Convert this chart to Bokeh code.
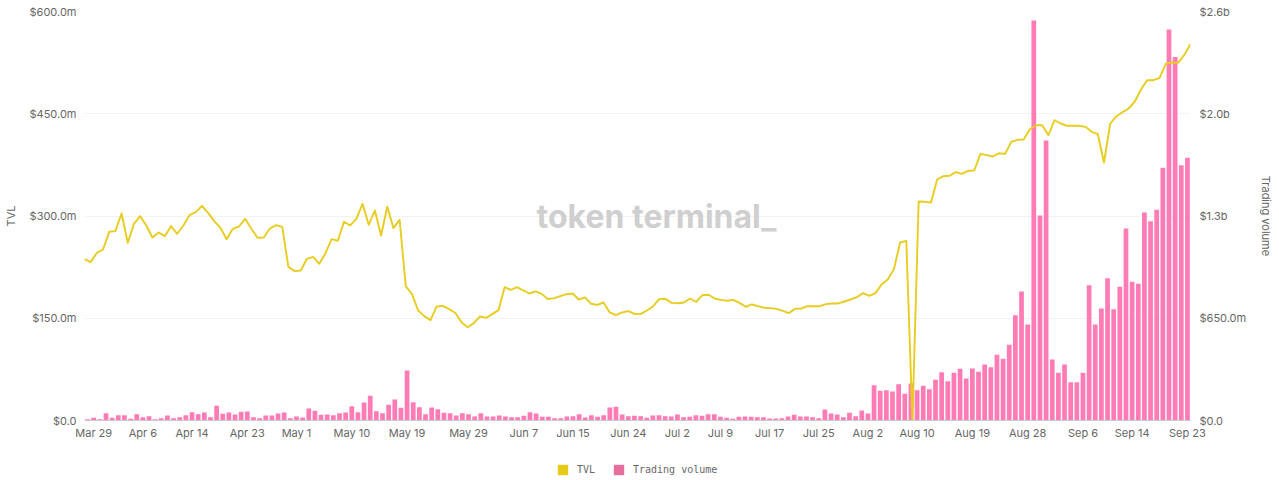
from bokeh.embed import file_html
from bokeh.resources import INLINE
from bokeh.plotting import figure
from bokeh.layouts import column
from bokeh.models import (ColumnDataSource, Range1d, LinearAxis, FixedTicker,
                          Label, Legend, LegendItem)
import pandas as pd

# Values in $ millions, one per day from Mar 28 to Sep 23
tvl = [236.7,232.3,246,250.9,276.8,277.8,303.7,260.7,288.5,299.8,286.1,268.5,275.8,270.4,285.1,273.9,286.1,301.2,305.6,314.9,
       304.7,292.4,282.7,266,281.2,284.6,295.9,281.2,268,268.5,281.7,286.6,284.1,225.4,219.1,220.1,237.2,240.1,229.9,245.5,
       266,263.6,291.5,286.1,295.9,317.9,287.1,308.1,271.4,313.5,282.2,294.4,196.6,185.8,161.4,153.1,147.2,167.3,168.2,163.3,
       158,144.3,136.9,142.8,152.6,150.6,156,161.9,195.6,191.7,195.6,190.7,186.3,189.3,185.8,178,179.5,182.4,185.3,186.3,
       177.5,180.5,171.2,169.7,173.1,158.5,154.5,158.5,160.4,156.5,156,161.4,167.3,178,178.5,172.6,172.1,173.1,179,174.1,
       183.9,184.4,179,177,175.6,177,172.6,166.8,170.2,167.7,165.3,164.8,163.8,160.9,157.5,163.8,164.3,167.7,167.7,167.7,
       170.7,171.7,171.7,174.6,177.5,180.9,186.8,182.9,186.8,199.5,206.8,222,261.1,263.6,0,321.3,320.8,319.8,353.5,358.4,
       359,364.3,361.9,366.3,366.8,391.2,389.2,387.3,392.1,391.2,408.8,411.8,412.2,427.3,433.2,433.2,418.5,440.5,435.7,432.3,
       432.3,432.3,430.9,423.5,420,378.5,435.3,446.4,452.3,457.7,468,486,499.2,499.2,502.7,523.3,525.2,524.7,536.5,552]
volume = [8.5,17,8.5,46.6,17,33.9,33.9,10.6,40.3,21.2,27.5,8.5,14.8,31.8,14.8,21.2,33.9,53,40.3,50.9,
          21.2,93.2,42.4,50.9,38.1,55.1,57.2,21.2,14.8,31.8,31.8,44.5,50.9,14.8,25.4,19.1,76.3,61.5,36,38.1,
          33.9,46.6,50.9,91.1,53,114.4,156.8,59.3,46.6,99.6,133.5,80.5,317.9,116.5,84.8,40.3,82.6,72,48.7,46.6,
          31.8,46.6,40.3,25.4,46.6,25.4,25.4,31.8,25.4,21.2,21.2,29.7,53,44.5,23.3,23.3,14.8,14.8,25.4,27.5,
          40.3,19.1,33.9,23.3,33.9,82.6,86.9,38.1,27.5,29.7,27.5,17,31.8,33.9,27.5,25.4,38.1,21.2,23.3,33.9,
          29.7,40.3,40.3,23.3,17,10.6,23.3,25.4,23.3,21.2,21.2,12.7,12.7,14.8,25.4,36,25.4,25.4,21.2,14.8,
          69.9,44.5,38.1,21.2,48.7,27.5,63.6,44.5,224.6,188.6,192.8,184.4,231,169.5,235.2,192.8,220.4,199.2,258.5,307.3,
          250,303,328.4,267,330.6,309.4,356,339,417.4,392,481,669.6,820,610.3,2543,1303,1780,387.8,303,356,
          243.7,243.7,303,860.3,610.3,712,904.8,707.7,849.7,1220.5,881.5,868.8,1322,1267,1339,1606,2486,2310,1623,1670]
x_tick_labels = ["Mar 29","Apr 6","Apr 14","Apr 23","May 1","May 10","May 19","May 29","Jun 7","Jun 15","Jun 24",
                 "Jul 2","Jul 9","Jul 17","Jul 25","Aug 2","Aug 10","Aug 19","Aug 28","Sep 6","Sep 14","Sep 23"]
tvl_ticks = [0, 150, 300, 450, 600]
tvl_tick_labels = ["$0.0", "$150.0m", "$300.0m", "$450.0m", "$600.0m"]
volume_ticks = [0, 650, 1300, 1950, 2600]
volume_tick_labels = ["$0.0", "$650.0m", "$1.3b", "$2.0b", "$2.6b"]

day_names = [f"{d.strftime('%b')} {d.day}" for d in pd.date_range("2023-03-28", periods=len(tvl))]
days = list(range(len(tvl)))
source = ColumnDataSource(dict(day=days, tvl=tvl, volume=volume))

TEXT = "#666666"
FONT = "Inter"
p = figure(width=1279, height=448, output_backend="svg", toolbar_location=None,
           x_range=Range1d(-0.5, len(tvl) - 0.5), y_range=Range1d(0, 600),
           min_border_left=84, min_border_right=89, min_border_top=11, min_border_bottom=28,
           outline_line_color=None, background_fill_color="white")
p.extra_y_ranges = {"volume": Range1d(0, 2600)}
p.extra_x_ranges = {"line": Range1d(0, len(tvl) - 1)}

p.xaxis.ticker = FixedTicker(ticks=[day_names.index(n) for n in x_tick_labels])
p.xaxis.major_label_overrides = {day_names.index(n): n for n in x_tick_labels}
p.xaxis.axis_line_color = "#cccccc"
p.yaxis.ticker = FixedTicker(ticks=tvl_ticks)
p.yaxis.major_label_overrides = dict(zip(tvl_ticks, tvl_tick_labels))
p.yaxis.axis_label = "TVL"
p.yaxis.axis_label_standoff = 9

right = LinearAxis(y_range_name="volume", ticker=FixedTicker(ticks=volume_ticks),
                   major_label_overrides=dict(zip(volume_ticks, volume_tick_labels)),
                   axis_label="Trading volume", axis_label_standoff=10)
p.add_layout(right, "right")

for ax in [p.xaxis[0], p.yaxis[0], right]:
    ax.major_tick_line_color = None
    ax.minor_tick_line_color = None
    ax.major_tick_in = 0
    ax.major_tick_out = 0
    ax.major_label_text_color = TEXT
    ax.major_label_text_font = FONT
    ax.major_label_text_font_size = "11px"
    ax.axis_label_text_color = TEXT
    ax.axis_label_text_font = FONT
    ax.axis_label_text_font_size = "11px"
    ax.axis_label_text_font_style = "normal"
p.yaxis[0].axis_line_color = None
right.axis_line_color = None
p.xaxis[0].major_label_standoff = 5
p.yaxis[0].major_label_standoff = 8
right.major_label_standoff = 9

p.xgrid.visible = False
p.ygrid.grid_line_color = "#f3f3f3"
p.ygrid.ticker = FixedTicker(ticks=tvl_ticks)

p.add_layout(Label(x=73.07, y=299, text="token terminal_", text_color="#cfcfcf", text_font="Inter",
                   text_font_style="bold", text_font_size="32px", text_align="left",
                   text_baseline="middle", level="underlay"))

p.vbar(x="day", top="volume", width=0.77, source=source, y_range_name="volume",
       fill_color="#ff7bb5", line_color=None)
p.line(x="day", y="tvl", source=source, x_range_name="line", line_color="#e8cc1f", line_width=1.9,
       line_join="round")

key = figure(width=1279, height=32, output_backend="svg", toolbar_location=None,
             x_axis_type=None, y_axis_type=None, x_range=Range1d(0, 1), y_range=Range1d(0, 1),
             min_border=0, outline_line_color=None)
key.grid.visible = False
key_tvl = key.vbar(x=[0], top=[0], width=0, fill_color="#e5ca17", line_color=None)
key_vol = key.vbar(x=[0], top=[0], width=0, fill_color="#e56e9e", line_color=None)
legend = Legend(items=[LegendItem(label="TVL", renderers=[key_tvl]),
                       LegendItem(label="Trading volume", renderers=[key_vol])],
                orientation="horizontal", location=(472, 4), border_line_color=None,
                background_fill_alpha=0, padding=0, margin=0, spacing=15,
                glyph_width=13, glyph_height=13, label_standoff=8,
                label_text_font="DejaVu Sans Mono", label_text_font_size="10px", label_text_color=TEXT)
key.add_layout(legend, "center")

open("out.html", "w").write(file_html(column(p, key, spacing=0), INLINE))
